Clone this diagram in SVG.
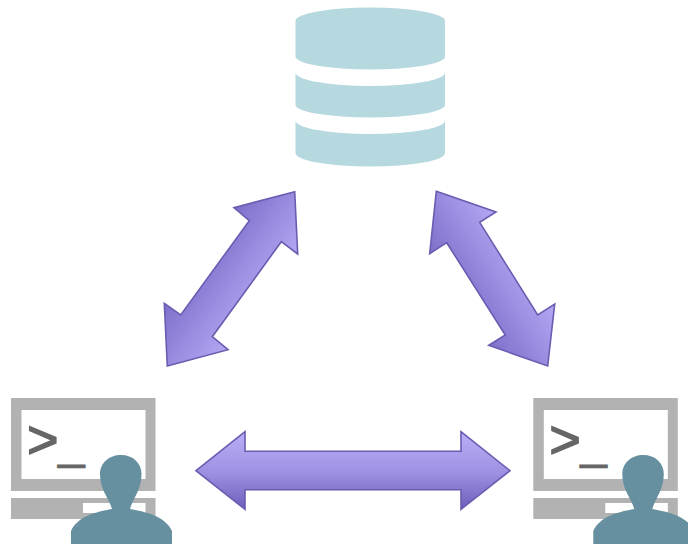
<svg xmlns="http://www.w3.org/2000/svg" xmlns:xlink="http://www.w3.org/1999/xlink" width="688" height="545" viewBox="0 0 688 545">
<style>
.db{fill:#b6d8df}
.frame{fill:#b2b2b2}
.screen{fill:#fff}
.person{fill:#66909f}
.prompt{font-family:"Liberation Sans",Arial,sans-serif;fill:#666;stroke:#666;stroke-width:1.4px;font-size:54px}
.under{font-size:48px;stroke-width:0.6px}
.arrow{stroke:#6a5cb0;stroke-width:1.6;stroke-linejoin:miter}
</style>
<defs>
<linearGradient id="gh" gradientUnits="userSpaceOnUse" x1="0" y1="432" x2="0" y2="510">
<stop offset="0" stop-color="#b9aef6"/><stop offset="0.5" stop-color="#a092e3"/><stop offset="1" stop-color="#6d5dbb"/>
</linearGradient>
<linearGradient id="gl" gradientUnits="userSpaceOnUse" x1="194" y1="252" x2="268" y2="306">
<stop offset="0" stop-color="#7a6ac7"/><stop offset="1" stop-color="#b8acf6"/>
</linearGradient>
<linearGradient id="gr" gradientUnits="userSpaceOnUse" x1="454" y1="303" x2="530" y2="255">
<stop offset="0" stop-color="#7a6ac7"/><stop offset="1" stop-color="#b8acf6"/>
</linearGradient>
<g id="terminal">
<rect class="frame" x="11" y="398" width="144.5" height="93"/>
<rect class="screen" x="21.5" y="410" width="124" height="69"/>
<rect class="frame" x="11" y="498" width="144.5" height="21"/>
<rect class="screen" x="83" y="503" width="62.5" height="10"/>
<text class="prompt" x="27" y="458">&gt;<tspan class="under" x="58" y="458">_</tspan></text>
<path class="person" d="M71,544 L71,531 C78,516 96,512 112,509 C109,498 100,490 100,474 C100,463 109,455 121,455 C133,455 141.5,463 141.5,474 C141.5,490 133,498 130,509 C146,512 165,516 172,531 L172,544 Z"/>
</g>
</defs>
<rect width="688" height="545" fill="#fff"/>
<g id="connectors">
<path id="link-db-left" class="arrow" fill="url(#gl)" d="M294.7,191.7 L234,207.7 L249.3,220.7 L180.7,315 L164.3,303.3 L167.3,366 L228,349.7 L212.3,336.7 L281.3,241.7 L297.7,254 Z"/>
<path id="link-db-right" class="arrow" fill="url(#gr)" d="M436.3,191.3 L496,212 L479.7,222.3 L537.7,315 L554.7,304 L547.7,366 L488.7,345.3 L505.3,335 L446.7,242.7 L429.7,253.7 Z"/>
<path id="link-left-right" class="arrow" fill="url(#gh)" d="M196,470.7 L245,431.7 L245,451.3 L461,451.3 L461,431.7 L510,470.7 L461,509.3 L461,489.7 L245,489.7 L245,509.3 Z"/>
</g>
<g id="database">
<path class="db" d="M295.5,21 A74.7,13.5 0 0 1 445,21 L445,56.5 A74.7,13 0 0 1 295.5,56.5 Z"/>
<path class="db" d="M295.5,72.5 A74.7,13.5 0 0 0 445,72.5 L445,105 A74.7,12.5 0 0 1 295.5,105 Z"/>
<path class="db" d="M295.5,120.5 A74.7,13.5 0 0 0 445,120.5 L445,153 A74.7,13.5 0 0 1 295.5,153 Z"/>
</g>
<g id="user-left"><use xlink:href="#terminal" href="#terminal"/></g>
<g id="user-right"><use xlink:href="#terminal" href="#terminal" x="522.3"/></g>
</svg>
